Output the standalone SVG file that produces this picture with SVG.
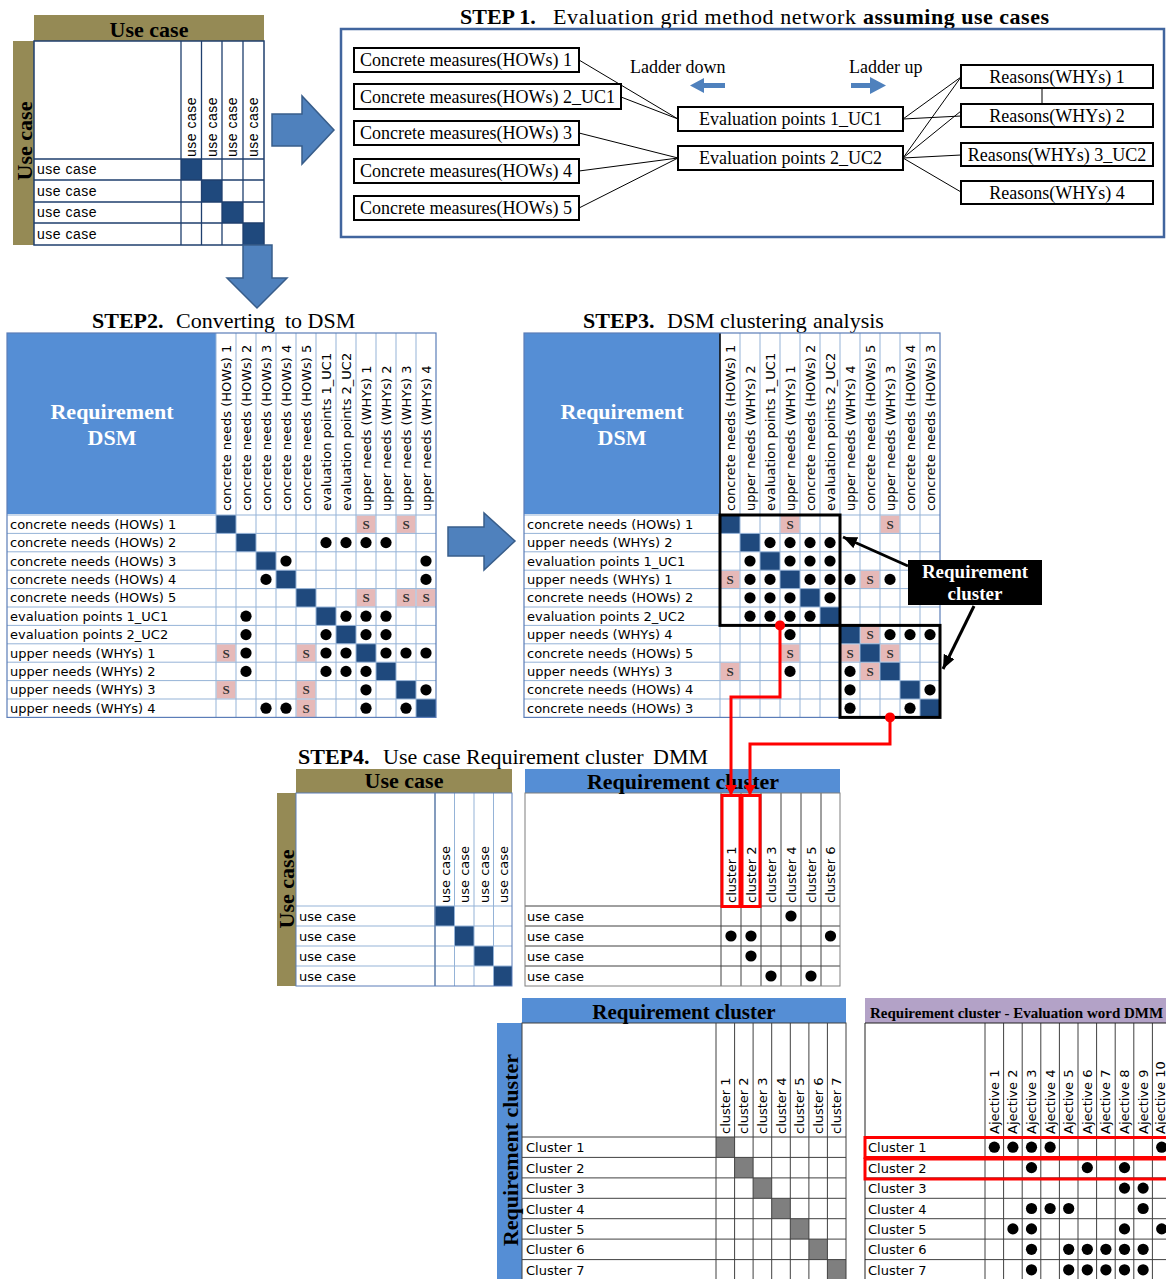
<svg xmlns="http://www.w3.org/2000/svg" xmlns:xlink="http://www.w3.org/1999/xlink" width="1166" height="1279" viewBox="0 0 1166 1279">
<style>
  .serif { font-family: "Liberation Serif", "Times New Roman", serif; }
  .ttl { font-family: "Liberation Serif", "Times New Roman", serif; font-size: 22px; fill: #000; }
  .hb { font-family: "Liberation Serif", "Times New Roman", serif; font-size: 22px; font-weight: bold; }
  .nd { font-family: "Liberation Serif", "Times New Roman", serif; font-size: 18px; fill: #000; }
  .box { fill: #fff; stroke: #000; stroke-width: 2; }
  .lbl { font-family: "DejaVu Sans", Verdana, sans-serif; font-size: 13px; fill: #000; }
  .uc { font-family: "Liberation Sans", Arial, sans-serif; font-size: 14px; letter-spacing: 0.5px; fill: #000; }
  .s { font-family: "Liberation Serif", "Times New Roman", serif; font-size: 13px; font-weight: bold; fill: #333; text-anchor: middle; }
  .pk { fill: #E6B9B8; }
  .dg { fill: #1F497D; }
  .gr { stroke: #95B3D7; stroke-width: 1; fill: none; }
  .gk { stroke: #404040; stroke-width: 1; fill: none; }
  .olive { fill: #958A55; }
  .blue { fill: #558ED5; }
  .barrow { fill: #4F81BD; stroke: #385D8A; stroke-width: 1.5; }
  .con { stroke: #000; stroke-width: 1; fill: none; }
  .red { stroke: #FF0000; stroke-width: 3; fill: none; }
</style>
<defs>
  <circle id="dt" r="5.6" fill="#000"/>
  <marker id="rh" viewBox="0 0 10 12" refX="10" refY="6" markerWidth="10" markerHeight="12" markerUnits="userSpaceOnUse" orient="auto">
    <path d="M0,0 L10,6 L0,12 z" fill="#FF0000"/>
  </marker>
  <marker id="bh" viewBox="0 0 14 12" refX="14" refY="6" markerWidth="14" markerHeight="12" markerUnits="userSpaceOnUse" orient="auto">
    <path d="M0,0 L14,6 L0,12 z" fill="#000"/>
  </marker>
</defs>
<rect width="1166" height="1279" fill="#fff"/>

<!-- Use case x use case matrix (top left) -->
<g id="uc-matrix">
  <rect x="34" y="15" width="230" height="26" class="olive"/>
  <rect x="13" y="41" width="21" height="204" class="olive"/>
  <rect x="34" y="41" width="230" height="204" fill="#fff"/>
  <rect x="181" y="159" width="20.5" height="21" class="dg"/>
  <rect x="201.5" y="180" width="20.5" height="22" class="dg"/>
  <rect x="222" y="202" width="21" height="21" class="dg"/>
  <rect x="243" y="223" width="21" height="22" class="dg"/>
  <path d="M181,41V245 M201.5,41V245 M222,41V245 M243,41V245 M34,159H264 M34,180H264 M34,202H264 M34,223H264" stroke="#1F3F6E" stroke-width="1.3" fill="none"/>
  <rect x="34" y="41" width="230" height="204" fill="none" stroke="#1F3F6E" stroke-width="1.5"/>
  <text x="149" y="37" class="hb" text-anchor="middle">Use case</text>
  <text transform="translate(32,141) rotate(-90)" class="hb" text-anchor="middle">Use case</text>
  <text x="37" y="174" class="uc">use case</text>
  <text x="37" y="195.5" class="uc">use case</text>
  <text x="37" y="217" class="uc">use case</text>
  <text x="37" y="238.5" class="uc">use case</text>
  <text transform="translate(196,157) rotate(-90)" class="uc">use case</text>
  <text transform="translate(216.5,157) rotate(-90)" class="uc">use case</text>
  <text transform="translate(237,157) rotate(-90)" class="uc">use case</text>
  <text transform="translate(258,157) rotate(-90)" class="uc">use case</text>
</g>

<!-- Block arrows -->
<g id="block-arrows">
  <polygon class="barrow" points="272,114 302,114 302,96 334,130 302,164 302,146 272,146"/>
  <polygon class="barrow" points="243,245 272,245 272,278 287,278 257,308 227,278 243,278"/>
  <polygon class="barrow" points="448,527 484,527 484,513 515,541 484,570 484,556 448,556"/>
</g>

<!-- STEP 1 -->
<text y="24" class="ttl"><tspan x="460" font-weight="bold">STEP 1.</tspan><tspan x="553" textLength="303">Evaluation grid method network</tspan><tspan x="863" font-weight="bold" textLength="186">assuming use cases</tspan></text>
<rect id="step1-frame" x="341" y="29" width="823" height="208" fill="none" stroke="#41659E" stroke-width="2.5"/>

<g id="step1-connectors">
  <path class="con" d="M579,60 L678,119 M621,97 L678,119 M579,133 L678,158 M579,171 L678,158 M579,208 L678,158"/>
  <path class="con" d="M903,119 L961,77 M903,119 L961,116 M903,158 L961,77 M903,158 L961,111 M903,158 L961,155 M903,158 L961,192 M1042,88 V104"/>
</g>

<g id="cm1"><rect class="box" x="354" y="48" width="225" height="24"/><text class="nd" x="360" y="66">Concrete measures(HOWs) 1</text></g>
<g id="cm2"><rect class="box" x="354" y="84" width="267" height="25"/><text class="nd" x="360" y="103">Concrete measures(HOWs) 2_UC1</text></g>
<g id="cm3"><rect class="box" x="354" y="121" width="225" height="24"/><text class="nd" x="360" y="139">Concrete measures(HOWs) 3</text></g>
<g id="cm4"><rect class="box" x="354" y="159" width="225" height="24"/><text class="nd" x="360" y="177">Concrete measures(HOWs) 4</text></g>
<g id="cm5"><rect class="box" x="354" y="196" width="225" height="24"/><text class="nd" x="360" y="214">Concrete measures(HOWs) 5</text></g>
<g id="ep1"><rect class="box" x="678" y="107" width="225" height="24"/><text class="nd" x="790.5" y="125" text-anchor="middle">Evaluation  points 1_UC1</text></g>
<g id="ep2"><rect class="box" x="678" y="146" width="225" height="24"/><text class="nd" x="790.5" y="164" text-anchor="middle">Evaluation  points 2_UC2</text></g>
<g id="rw1"><rect class="box" x="961" y="65" width="192" height="23"/><text class="nd" x="1057" y="83" text-anchor="middle">Reasons(WHYs) 1</text></g>
<g id="rw2"><rect class="box" x="961" y="104" width="192" height="23"/><text class="nd" x="1057" y="122" text-anchor="middle">Reasons(WHYs) 2</text></g>
<g id="rw3"><rect class="box" x="961" y="143" width="192" height="23"/><text class="nd" x="1057" y="161" text-anchor="middle">Reasons(WHYs) 3_UC2</text></g>
<g id="rw4"><rect class="box" x="961" y="181" width="192" height="23"/><text class="nd" x="1057" y="199" text-anchor="middle">Reasons(WHYs) 4</text></g>

<g id="ladder">
  <text class="nd" x="630" y="73">Ladder down</text>
  <polygon fill="#4F81BD" points="690,85.5 704,78 704,83 725,83 725,88 704,88 704,93"/>
  <text class="nd" x="849" y="73">Ladder up</text>
  <polygon fill="#4F81BD" points="851,83 870,83 870,77 886,85.5 870,94 870,88 851,88"/>
</g>

<!-- STEP 2 -->
<text y="328" class="ttl"><tspan x="92" font-weight="bold">STEP2.</tspan><tspan x="176">Converting</tspan><tspan x="285">to DSM</tspan></text>
<g id="step2-dsm">
  <rect x="7" y="333" width="429" height="384.4" fill="#fff"/>
  <rect x="7" y="333" width="209" height="181" class="blue"/>
  <text x="112" y="419" class="hb" fill="#fff" text-anchor="middle">Requirement</text>
  <text x="112" y="445" class="hb" fill="#fff" text-anchor="middle">DSM</text>
  <rect x="216" y="515" width="20" height="18.4" class="dg"/>
  <rect x="236" y="533.4" width="20" height="18.4" class="dg"/>
  <rect x="256" y="551.8" width="20" height="18.4" class="dg"/>
  <rect x="276" y="570.2" width="20" height="18.4" class="dg"/>
  <rect x="296" y="588.6" width="20" height="18.4" class="dg"/>
  <rect x="316" y="607" width="20" height="18.4" class="dg"/>
  <rect x="336" y="625.4" width="20" height="18.4" class="dg"/>
  <rect x="356" y="643.8" width="20" height="18.4" class="dg"/>
  <rect x="376" y="662.2" width="20" height="18.4" class="dg"/>
  <rect x="396" y="680.6" width="20" height="18.4" class="dg"/>
  <rect x="416" y="699" width="20" height="18.4" class="dg"/>
  <rect x="356.5" y="515.5" width="19" height="17.4" class="pk"/>
  <rect x="396.5" y="515.5" width="19" height="17.4" class="pk"/>
  <rect x="356.5" y="589.1" width="19" height="17.4" class="pk"/>
  <rect x="396.5" y="589.1" width="19" height="17.4" class="pk"/>
  <rect x="416.5" y="589.1" width="19" height="17.4" class="pk"/>
  <rect x="216.5" y="644.3" width="19" height="17.4" class="pk"/>
  <rect x="296.5" y="644.3" width="19" height="17.4" class="pk"/>
  <rect x="216.5" y="681.1" width="19" height="17.4" class="pk"/>
  <rect x="296.5" y="681.1" width="19" height="17.4" class="pk"/>
  <rect x="296.5" y="699.5" width="19" height="17.4" class="pk"/>
  <path class="gr" d="M216,333V717.4 M236,333V717.4 M256,333V717.4 M276,333V717.4 M296,333V717.4 M316,333V717.4 M336,333V717.4 M356,333V717.4 M376,333V717.4 M396,333V717.4 M416,333V717.4 M7,515H436 M7,533.4H436 M7,551.8H436 M7,570.2H436 M7,588.6H436 M7,607H436 M7,625.4H436 M7,643.8H436 M7,662.2H436 M7,680.6H436 M7,699H436"/>
  <rect x="7" y="333" width="429" height="384.4" fill="none" stroke="#5B7DB8" stroke-width="1.2"/>
  <text class="s" x="366" y="528.7">S</text><text class="s" x="406" y="528.7">S</text>
  <text class="s" x="366" y="602.3">S</text><text class="s" x="406" y="602.3">S</text><text class="s" x="426" y="602.3">S</text>
  <text class="s" x="226" y="657.5">S</text><text class="s" x="306" y="657.5">S</text>
  <text class="s" x="226" y="694.3">S</text><text class="s" x="306" y="694.3">S</text>
  <text class="s" x="306" y="712.7">S</text>
  <use href="#dt" x="326" y="542.6"/><use href="#dt" x="346" y="542.6"/><use href="#dt" x="366" y="542.6"/><use href="#dt" x="386" y="542.6"/>
  <use href="#dt" x="286" y="561"/><use href="#dt" x="426" y="561"/>
  <use href="#dt" x="266" y="579.4"/><use href="#dt" x="426" y="579.4"/>
  <use href="#dt" x="246" y="616.2"/><use href="#dt" x="346" y="616.2"/><use href="#dt" x="366" y="616.2"/><use href="#dt" x="386" y="616.2"/>
  <use href="#dt" x="246" y="634.6"/><use href="#dt" x="326" y="634.6"/><use href="#dt" x="366" y="634.6"/><use href="#dt" x="386" y="634.6"/>
  <use href="#dt" x="246" y="653"/><use href="#dt" x="326" y="653"/><use href="#dt" x="346" y="653"/><use href="#dt" x="386" y="653"/><use href="#dt" x="406" y="653"/><use href="#dt" x="426" y="653"/>
  <use href="#dt" x="246" y="671.4"/><use href="#dt" x="326" y="671.4"/><use href="#dt" x="346" y="671.4"/><use href="#dt" x="366" y="671.4"/>
  <use href="#dt" x="366" y="689.8"/><use href="#dt" x="426" y="689.8"/>
  <use href="#dt" x="266" y="708.2"/><use href="#dt" x="286" y="708.2"/><use href="#dt" x="366" y="708.2"/><use href="#dt" x="406" y="708.2"/>
  <text class="lbl" x="10" y="528.7">concrete needs (HOWs) 1</text>
  <text class="lbl" x="10" y="547.1">concrete needs (HOWs) 2</text>
  <text class="lbl" x="10" y="565.5">concrete needs (HOWs) 3</text>
  <text class="lbl" x="10" y="583.9">concrete needs (HOWs) 4</text>
  <text class="lbl" x="10" y="602.3">concrete needs (HOWs) 5</text>
  <text class="lbl" x="10" y="620.7">evaluation points 1_UC1</text>
  <text class="lbl" x="10" y="639.1">evaluation points 2_UC2</text>
  <text class="lbl" x="10" y="657.5">upper needs (WHYs) 1</text>
  <text class="lbl" x="10" y="675.9">upper needs (WHYs) 2</text>
  <text class="lbl" x="10" y="694.3">upper needs (WHYs) 3</text>
  <text class="lbl" x="10" y="712.7">upper needs (WHYs) 4</text>
  <text class="lbl" transform="translate(230.5,511) rotate(-90)">concrete needs (HOWs) 1</text>
  <text class="lbl" transform="translate(250.5,511) rotate(-90)">concrete needs (HOWs) 2</text>
  <text class="lbl" transform="translate(270.5,511) rotate(-90)">concrete needs (HOWs) 3</text>
  <text class="lbl" transform="translate(290.5,511) rotate(-90)">concrete needs (HOWs) 4</text>
  <text class="lbl" transform="translate(310.5,511) rotate(-90)">concrete needs (HOWs) 5</text>
  <text class="lbl" transform="translate(330.5,511) rotate(-90)">evaluation points 1_UC1</text>
  <text class="lbl" transform="translate(350.5,511) rotate(-90)">evaluation points 2_UC2</text>
  <text class="lbl" transform="translate(370.5,511) rotate(-90)">upper needs (WHYs) 1</text>
  <text class="lbl" transform="translate(390.5,511) rotate(-90)">upper needs (WHYs) 2</text>
  <text class="lbl" transform="translate(410.5,511) rotate(-90)">upper needs (WHYs) 3</text>
  <text class="lbl" transform="translate(430.5,511) rotate(-90)">upper needs (WHYs) 4</text>
</g>

<!-- STEP 3 -->
<text y="328" class="ttl"><tspan x="583" font-weight="bold">STEP3.</tspan><tspan x="667">DSM</tspan><tspan x="720">clustering</tspan><tspan x="813">analysis</tspan></text>
<g id="step3-dsm">
  <rect x="524" y="333" width="416" height="384.4" fill="#fff"/>
  <rect x="524" y="333" width="196" height="181" class="blue"/>
  <text x="622" y="419" class="hb" fill="#fff" text-anchor="middle">Requirement</text>
  <text x="622" y="445" class="hb" fill="#fff" text-anchor="middle">DSM</text>
  <rect x="720" y="515" width="20" height="18.4" class="dg"/>
  <rect x="740" y="533.4" width="20" height="18.4" class="dg"/>
  <rect x="760" y="551.8" width="20" height="18.4" class="dg"/>
  <rect x="780" y="570.2" width="20" height="18.4" class="dg"/>
  <rect x="800" y="588.6" width="20" height="18.4" class="dg"/>
  <rect x="820" y="607" width="20" height="18.4" class="dg"/>
  <rect x="840" y="625.4" width="20" height="18.4" class="dg"/>
  <rect x="860" y="643.8" width="20" height="18.4" class="dg"/>
  <rect x="880" y="662.2" width="20" height="18.4" class="dg"/>
  <rect x="900" y="680.6" width="20" height="18.4" class="dg"/>
  <rect x="920" y="699" width="20" height="18.4" class="dg"/>
  <rect x="780.5" y="515.5" width="19" height="17.4" class="pk"/>
  <rect x="880.5" y="515.5" width="19" height="17.4" class="pk"/>
  <rect x="720.5" y="570.7" width="19" height="17.4" class="pk"/>
  <rect x="860.5" y="570.7" width="19" height="17.4" class="pk"/>
  <rect x="860.5" y="625.9" width="19" height="17.4" class="pk"/>
  <rect x="780.5" y="644.3" width="19" height="17.4" class="pk"/>
  <rect x="840.5" y="644.3" width="19" height="17.4" class="pk"/>
  <rect x="880.5" y="644.3" width="19" height="17.4" class="pk"/>
  <rect x="720.5" y="662.7" width="19" height="17.4" class="pk"/>
  <rect x="860.5" y="662.7" width="19" height="17.4" class="pk"/>
  <path class="gr" d="M720,333V717.4 M740,333V717.4 M760,333V717.4 M780,333V717.4 M800,333V717.4 M820,333V717.4 M840,333V717.4 M860,333V717.4 M880,333V717.4 M900,333V717.4 M920,333V717.4 M524,515H940 M524,533.4H940 M524,551.8H940 M524,570.2H940 M524,588.6H940 M524,607H940 M524,625.4H940 M524,643.8H940 M524,662.2H940 M524,680.6H940 M524,699H940"/>
  <path d="M720,333V515" stroke="#000" stroke-width="1.5"/>
  <rect x="524" y="333" width="416" height="384.4" fill="none" stroke="#5B7DB8" stroke-width="1.2"/>
  <text class="s" x="790" y="528.7">S</text><text class="s" x="890" y="528.7">S</text>
  <text class="s" x="730" y="583.9">S</text><text class="s" x="870" y="583.9">S</text>
  <text class="s" x="870" y="639.1">S</text>
  <text class="s" x="790" y="657.5">S</text><text class="s" x="850" y="657.5">S</text><text class="s" x="890" y="657.5">S</text>
  <text class="s" x="730" y="675.9">S</text><text class="s" x="870" y="675.9">S</text>
  <use href="#dt" x="770" y="542.6"/><use href="#dt" x="790" y="542.6"/><use href="#dt" x="810" y="542.6"/><use href="#dt" x="830" y="542.6"/>
  <use href="#dt" x="750" y="561"/><use href="#dt" x="790" y="561"/><use href="#dt" x="810" y="561"/><use href="#dt" x="830" y="561"/>
  <use href="#dt" x="750" y="579.4"/><use href="#dt" x="770" y="579.4"/><use href="#dt" x="810" y="579.4"/><use href="#dt" x="830" y="579.4"/><use href="#dt" x="850" y="579.4"/><use href="#dt" x="890" y="579.4"/>
  <use href="#dt" x="750" y="597.8"/><use href="#dt" x="770" y="597.8"/><use href="#dt" x="790" y="597.8"/><use href="#dt" x="830" y="597.8"/>
  <use href="#dt" x="750" y="616.2"/><use href="#dt" x="770" y="616.2"/><use href="#dt" x="790" y="616.2"/><use href="#dt" x="810" y="616.2"/>
  <use href="#dt" x="790" y="634.6"/><use href="#dt" x="890" y="634.6"/><use href="#dt" x="910" y="634.6"/><use href="#dt" x="930" y="634.6"/>
  <use href="#dt" x="790" y="671.4"/><use href="#dt" x="850" y="671.4"/>
  <use href="#dt" x="850" y="689.8"/><use href="#dt" x="930" y="689.8"/>
  <use href="#dt" x="850" y="708.2"/><use href="#dt" x="910" y="708.2"/>
  <text class="lbl" x="527" y="528.7">concrete needs (HOWs) 1</text>
  <text class="lbl" x="527" y="547.1">upper needs (WHYs) 2</text>
  <text class="lbl" x="527" y="565.5">evaluation points 1_UC1</text>
  <text class="lbl" x="527" y="583.9">upper needs (WHYs) 1</text>
  <text class="lbl" x="527" y="602.3">concrete needs (HOWs) 2</text>
  <text class="lbl" x="527" y="620.7">evaluation points 2_UC2</text>
  <text class="lbl" x="527" y="639.1">upper needs (WHYs) 4</text>
  <text class="lbl" x="527" y="657.5">concrete needs (HOWs) 5</text>
  <text class="lbl" x="527" y="675.9">upper needs (WHYs) 3</text>
  <text class="lbl" x="527" y="694.3">concrete needs (HOWs) 4</text>
  <text class="lbl" x="527" y="712.7">concrete needs (HOWs) 3</text>
  <text class="lbl" transform="translate(734.5,511) rotate(-90)">concrete needs (HOWs) 1</text>
  <text class="lbl" transform="translate(754.5,511) rotate(-90)">upper needs (WHYs) 2</text>
  <text class="lbl" transform="translate(774.5,511) rotate(-90)">evaluation points 1_UC1</text>
  <text class="lbl" transform="translate(794.5,511) rotate(-90)">upper needs (WHYs) 1</text>
  <text class="lbl" transform="translate(814.5,511) rotate(-90)">concrete needs (HOWs) 2</text>
  <text class="lbl" transform="translate(834.5,511) rotate(-90)">evaluation points 2_UC2</text>
  <text class="lbl" transform="translate(854.5,511) rotate(-90)">upper needs (WHYs) 4</text>
  <text class="lbl" transform="translate(874.5,511) rotate(-90)">concrete needs (HOWs) 5</text>
  <text class="lbl" transform="translate(894.5,511) rotate(-90)">upper needs (WHYs) 3</text>
  <text class="lbl" transform="translate(914.5,511) rotate(-90)">concrete needs (HOWs) 4</text>
  <text class="lbl" transform="translate(934.5,511) rotate(-90)">concrete needs (HOWs) 3</text>
  <!-- clusters found -->
  <rect x="720" y="515" width="120" height="110.4" fill="none" stroke="#000" stroke-width="3"/>
  <rect x="840" y="625.4" width="100" height="92" fill="none" stroke="#000" stroke-width="3"/>
</g>

<g id="cluster-label">
  <rect x="908" y="560" width="134" height="45" fill="#000"/>
  <text x="975" y="578" class="serif" font-size="19" font-weight="bold" fill="#fff" text-anchor="middle">Requirement</text>
  <text x="975" y="600" class="serif" font-size="19" font-weight="bold" fill="#fff" text-anchor="middle">cluster</text>
</g>

<!-- STEP 4 -->
<text y="764" class="ttl"><tspan x="298" font-weight="bold">STEP4.</tspan><tspan x="383">Use case</tspan><tspan x="466">Requirement</tspan><tspan x="585">cluster</tspan><tspan x="653">DMM</tspan></text>
<g id="step4-usecase">
  <rect x="296" y="769" width="216" height="24" class="olive"/>
  <rect x="277" y="793" width="19" height="193" class="olive"/>
  <rect x="296" y="793" width="216" height="193" fill="#fff"/>
  <rect x="435" y="906" width="19.5" height="20" class="dg"/>
  <rect x="454.5" y="926" width="19.5" height="20" class="dg"/>
  <rect x="474" y="946" width="19.5" height="20" class="dg"/>
  <rect x="493.5" y="966" width="18.5" height="20" class="dg"/>
  <path class="gr" d="M435,793V986 M454.5,793V986 M474,793V986 M493.5,793V986 M296,906H512 M296,926H512 M296,946H512 M296,966H512"/>
  <path d="M435,793V986" stroke="#3F5F8F" stroke-width="1"/>
  <rect x="296" y="793" width="216" height="193" fill="none" stroke="#5B7DB8" stroke-width="1"/>
  <text x="404" y="788" class="hb" text-anchor="middle">Use case</text>
  <text transform="translate(294,889) rotate(-90)" class="hb" text-anchor="middle">Use case</text>
  <text class="lbl" x="299" y="920.5">use case</text>
  <text class="lbl" x="299" y="940.5">use case</text>
  <text class="lbl" x="299" y="960.5">use case</text>
  <text class="lbl" x="299" y="980.5">use case</text>
  <text class="lbl" transform="translate(449.5,903) rotate(-90)">use case</text>
  <text class="lbl" transform="translate(469,903) rotate(-90)">use case</text>
  <text class="lbl" transform="translate(488.5,903) rotate(-90)">use case</text>
  <text class="lbl" transform="translate(507.5,903) rotate(-90)">use case</text>
</g>

<g id="step4-dmm">
  <rect x="525" y="769" width="315" height="24" class="blue"/>
  <rect x="525" y="793" width="315" height="193" fill="#fff"/>
  <path class="gk" stroke="#7F7F7F" d="M721,793V986 M741,793V986 M761,793V986 M781,793V986 M801,793V986 M821,793V986 M525,906H840 M525,926H840 M525,946H840 M525,966H840"/>
  <rect x="525" y="793" width="315" height="193" fill="none" stroke="#7F7F7F" stroke-width="1"/>
  <text x="683" y="789" class="hb" text-anchor="middle">Requirement cluster</text>
  <text class="lbl" x="527" y="920.5">use case</text>
  <text class="lbl" x="527" y="940.5">use case</text>
  <text class="lbl" x="527" y="960.5">use case</text>
  <text class="lbl" x="527" y="980.5">use case</text>
  <text class="lbl" transform="translate(735.5,903) rotate(-90)">cluster 1</text>
  <text class="lbl" transform="translate(755.5,903) rotate(-90)">cluster 2</text>
  <text class="lbl" transform="translate(775.5,903) rotate(-90)">cluster 3</text>
  <text class="lbl" transform="translate(795.5,903) rotate(-90)">cluster 4</text>
  <text class="lbl" transform="translate(815.5,903) rotate(-90)">cluster 5</text>
  <text class="lbl" transform="translate(835,903) rotate(-90)">cluster 6</text>
  <use href="#dt" x="791" y="916"/>
  <use href="#dt" x="731" y="936"/><use href="#dt" x="751" y="936"/><use href="#dt" x="830.5" y="936"/>
  <use href="#dt" x="751" y="956"/>
  <use href="#dt" x="771" y="976"/><use href="#dt" x="811" y="976"/>
  <rect x="722" y="795.5" width="18" height="111" fill="none" stroke="#FF0000" stroke-width="3"/>
  <rect x="742" y="795.5" width="18" height="111" fill="none" stroke="#FF0000" stroke-width="3"/>
</g>

<!-- Connectors: cluster callouts and links to STEP4 columns -->
<g id="connectors">
  <path d="M908,566 L843,537" stroke="#000" stroke-width="3" fill="none" marker-end="url(#bh)"/>
  <path d="M974,606 L943,669" stroke="#000" stroke-width="3" fill="none" marker-end="url(#bh)"/>
  <path class="red" d="M780,625.4 V697 H731 V795" marker-end="url(#rh)"/>
  <path class="red" d="M890,717.4 V744 H750 V795" marker-end="url(#rh)"/>
  <circle cx="780" cy="625.4" r="5" fill="#FF0000"/>
  <circle cx="890" cy="717.4" r="5" fill="#FF0000"/>
</g>

<!-- Requirement cluster DSM (bottom left) -->
<g id="cluster-dsm">
  <rect x="522" y="998" width="324" height="25" class="blue"/>
  <rect x="497" y="1023" width="25" height="257" class="blue"/>
  <rect x="522" y="1023" width="324" height="257" fill="#fff"/>
  <rect x="716" y="1137" width="18.6" height="20.4" fill="#7F7F7F"/>
  <rect x="734.6" y="1157.4" width="18.5" height="20.5" fill="#7F7F7F"/>
  <rect x="753.1" y="1177.9" width="18.6" height="20.4" fill="#7F7F7F"/>
  <rect x="771.7" y="1198.3" width="18.6" height="20.4" fill="#7F7F7F"/>
  <rect x="790.3" y="1218.7" width="18.6" height="20.4" fill="#7F7F7F"/>
  <rect x="808.9" y="1239.1" width="18.5" height="20.5" fill="#7F7F7F"/>
  <rect x="827.4" y="1259.6" width="18.6" height="20.4" fill="#7F7F7F"/>
  <path class="gk" d="M716,1023V1280 M734.6,1023V1280 M753.1,1023V1280 M771.7,1023V1280 M790.3,1023V1280 M808.9,1023V1280 M827.4,1023V1280 M522,1137H846 M522,1157.4H846 M522,1177.9H846 M522,1198.3H846 M522,1218.7H846 M522,1239.1H846 M522,1259.6H846"/>
  <rect x="522" y="1023" width="324" height="257" fill="none" stroke="#404040" stroke-width="1"/>
  <text x="684" y="1019" class="serif" font-size="21" font-weight="bold" text-anchor="middle">Requirement cluster</text>
  <text transform="translate(518,1150) rotate(-90)" class="hb" text-anchor="middle">Requirement cluster</text>
  <text class="lbl" x="526" y="1152">Cluster 1</text>
  <text class="lbl" x="526" y="1172.5">Cluster 2</text>
  <text class="lbl" x="526" y="1193">Cluster 3</text>
  <text class="lbl" x="526" y="1213.5">Cluster 4</text>
  <text class="lbl" x="526" y="1234">Cluster 5</text>
  <text class="lbl" x="526" y="1254.3">Cluster 6</text>
  <text class="lbl" x="526" y="1274.8">Cluster 7</text>
  <text class="lbl" transform="translate(729.8,1134) rotate(-90)">cluster 1</text>
  <text class="lbl" transform="translate(748.4,1134) rotate(-90)">cluster 2</text>
  <text class="lbl" transform="translate(766.9,1134) rotate(-90)">cluster 3</text>
  <text class="lbl" transform="translate(785.5,1134) rotate(-90)">cluster 4</text>
  <text class="lbl" transform="translate(804.1,1134) rotate(-90)">cluster 5</text>
  <text class="lbl" transform="translate(822.7,1134) rotate(-90)">cluster 6</text>
  <text class="lbl" transform="translate(841.2,1134) rotate(-90)">cluster 7</text>
</g>

<!-- Requirement cluster - Evaluation word DMM (bottom right) -->
<g id="word-dmm">
  <rect x="865" y="998" width="310" height="25" fill="#B3A2C7"/>
  <rect x="865" y="1023" width="310" height="257" fill="#fff"/>
  <path class="gk" stroke="#202020" d="M985,1023V1280 M1003.6,1023V1280 M1022.2,1023V1280 M1040.8,1023V1280 M1059.4,1023V1280 M1078,1023V1280 M1096.6,1023V1280 M1115.2,1023V1280 M1133.8,1023V1280 M1152.4,1023V1280 M865,1137H1166 M865,1157.4H1166 M865,1177.9H1166 M865,1198.3H1166 M865,1218.7H1166 M865,1239.1H1166 M865,1259.6H1166"/>
  <path d="M865,1023V1280 M865,1023H1166" stroke="#202020" stroke-width="1"/>
  <text x="870" y="1018" class="serif" font-size="15" font-weight="bold">Requirement cluster - Evaluation word DMM</text>
  <text class="lbl" x="868" y="1152">Cluster 1</text>
  <text class="lbl" x="868" y="1172.5">Cluster 2</text>
  <text class="lbl" x="868" y="1193">Cluster 3</text>
  <text class="lbl" x="868" y="1213.5">Cluster 4</text>
  <text class="lbl" x="868" y="1234">Cluster 5</text>
  <text class="lbl" x="868" y="1254.3">Cluster 6</text>
  <text class="lbl" x="868" y="1274.8">Cluster 7</text>
  <text class="lbl" transform="translate(998.8,1134) rotate(-90)">Ajective 1</text>
  <text class="lbl" transform="translate(1017.4,1134) rotate(-90)">Ajective 2</text>
  <text class="lbl" transform="translate(1036,1134) rotate(-90)">Ajective 3</text>
  <text class="lbl" transform="translate(1054.6,1134) rotate(-90)">Ajective 4</text>
  <text class="lbl" transform="translate(1073.2,1134) rotate(-90)">Ajective 5</text>
  <text class="lbl" transform="translate(1091.8,1134) rotate(-90)">Ajective 6</text>
  <text class="lbl" transform="translate(1110.4,1134) rotate(-90)">Ajective 7</text>
  <text class="lbl" transform="translate(1129,1134) rotate(-90)">Ajective 8</text>
  <text class="lbl" transform="translate(1147.6,1134) rotate(-90)">Ajective 9</text>
  <text class="lbl" transform="translate(1165,1134) rotate(-90)">Ajective 10</text>
  <use href="#dt" x="994.3" y="1147.2"/><use href="#dt" x="1012.9" y="1147.2"/><use href="#dt" x="1031.5" y="1147.2"/><use href="#dt" x="1050.1" y="1147.2"/><use href="#dt" x="1161.7" y="1147.2"/>
  <use href="#dt" x="1031.5" y="1167.6"/><use href="#dt" x="1087.3" y="1167.6"/><use href="#dt" x="1124.5" y="1167.6"/>
  <use href="#dt" x="1124.5" y="1188.1"/><use href="#dt" x="1143.1" y="1188.1"/>
  <use href="#dt" x="1031.5" y="1208.5"/><use href="#dt" x="1050.1" y="1208.5"/><use href="#dt" x="1068.7" y="1208.5"/><use href="#dt" x="1143.1" y="1208.5"/>
  <use href="#dt" x="1012.9" y="1228.9"/><use href="#dt" x="1031.5" y="1228.9"/><use href="#dt" x="1124.5" y="1228.9"/><use href="#dt" x="1161.7" y="1228.9"/>
  <use href="#dt" x="1031.5" y="1249.3"/><use href="#dt" x="1068.7" y="1249.3"/><use href="#dt" x="1087.3" y="1249.3"/><use href="#dt" x="1105.9" y="1249.3"/><use href="#dt" x="1124.5" y="1249.3"/><use href="#dt" x="1143.1" y="1249.3"/>
  <use href="#dt" x="1031.5" y="1269.8"/><use href="#dt" x="1068.7" y="1269.8"/><use href="#dt" x="1087.3" y="1269.8"/><use href="#dt" x="1105.9" y="1269.8"/><use href="#dt" x="1124.5" y="1269.8"/><use href="#dt" x="1143.1" y="1269.8"/>
  <rect x="865" y="1137.5" width="310" height="20" fill="none" stroke="#FF0000" stroke-width="3"/>
  <rect x="865" y="1159" width="310" height="20" fill="none" stroke="#FF0000" stroke-width="3"/>
</g>
</svg>
